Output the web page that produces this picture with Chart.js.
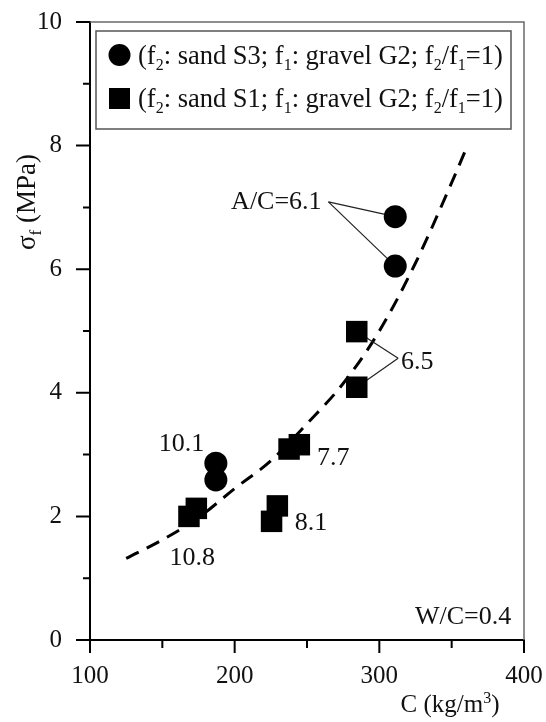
<!DOCTYPE html>
<html>
<head>
<meta charset="utf-8">
<script src="https://cdn.jsdelivr.net/npm/chart.js@4.4.0/dist/chart.umd.min.js"></script>
<style>
  html, body { margin: 0; padding: 0; background: #fff; }
  #wrap { width: 546px; height: 722px; }
</style>
</head>
<body>
<div id="wrap"><canvas id="c" width="546" height="722"></canvas></div>
<script>
// ---- data ----
const C_S3 = [311, 311, 187, 187];                 // kg/m3, sand S3 (circles)
const sigma_S3 = [6.85, 6.05, 2.86, 2.59];         // MPa
const C_S1 = [168.4, 173.5, 225.5, 229.5, 237.6, 244.7, 284.4, 284.4]; // sand S1 (squares)
const sigma_S1 = [2.00, 2.13, 1.92, 2.17, 3.09, 3.16, 4.99, 4.09];
const fitC = [125, 150, 175, 200, 225, 250, 275, 300, 325, 350, 360]; // dashed trend
const fitSigma = [1.32, 1.62, 1.98, 2.45, 2.90, 3.50, 4.15, 5.00, 6.10, 7.40, 7.95];
const xTicks = [100, 200, 300, 400];
const xMinorTicks = [150, 250, 350];
const yTicks = [0, 2, 4, 6, 8, 10];
const yMinorTicks = [1, 3, 5, 7, 9];

// annotation labels (text, anchor in data coords, alignment)
const labels = [
  { text: 'A/C=6.1', x: 260.1, y: 7.12, align: 'right' },
  { text: '6.5', x: 315, y: 4.53, align: 'left' },
  { text: '10.1', x: 147.6, y: 3.20, align: 'left' },
  { text: '10.8', x: 155, y: 1.35, align: 'left' },
  { text: '8.1', x: 241.6, y: 1.92, align: 'left' },
  { text: '7.7', x: 256.9, y: 2.97, align: 'left' },
  { text: 'W/C=0.4', x: 391.2, y: 0.40, align: 'right' }
];
// leader lines: from label anchor to data point
const leaders = [
  [[264.8, 7.09], [311, 6.85]],
  [[264.8, 7.09], [311, 6.05]],
  [[313, 4.56], [284.4, 4.99]],
  [[313, 4.56], [284.4, 4.09]]
];

const FONT = '"Liberation Serif", "Times New Roman", serif';
const FS = 25;

function zip(xs, ys) { return xs.map((x, i) => ({ x: x, y: ys[i] })); }

function drawRich(ctx, parts, x, y, size, align) {
  // parts: [text, mode]; mode 0 normal, -1 subscript, 1 superscript
  const small = Math.round(size * 0.62);
  let total = 0;
  const widths = parts.map(p => {
    ctx.font = (p[1] === 0 ? size : small) + 'px ' + FONT;
    const w = ctx.measureText(p[0]).width;
    total += w;
    return w;
  });
  let cx = align === 'center' ? x - total / 2 : (align === 'right' ? x - total : x);
  ctx.textAlign = 'left';
  ctx.textBaseline = 'alphabetic';
  const base = y + size * 0.33;
  parts.forEach((p, i) => {
    let yy = base;
    if (p[1] === 0) ctx.font = size + 'px ' + FONT;
    else {
      ctx.font = small + 'px ' + FONT;
      yy = p[1] < 0 ? base + size * 0.24 : base - size * 0.38;
    }
    ctx.fillText(p[0], cx, yy);
    cx += widths[i];
  });
}

const decor = {
  id: 'decor',
  afterDraw(chart) {
    const ctx = chart.ctx;
    const xs = chart.scales.x, ys = chart.scales.y;
    const a = chart.chartArea;
    ctx.save();
    // frame top & right
    ctx.strokeStyle = '#6a6a6a';
    ctx.lineWidth = 1.5;
    ctx.beginPath();
    ctx.moveTo(a.left, a.top);
    ctx.lineTo(a.right, a.top);
    ctx.lineTo(a.right, a.bottom);
    ctx.stroke();
    // ticks
    ctx.strokeStyle = '#000';
    ctx.lineWidth = 2;
    ctx.beginPath();
    yTicks.forEach(v => { const p = ys.getPixelForValue(v); ctx.moveTo(a.left - 14, p); ctx.lineTo(a.left, p); });
    yMinorTicks.forEach(v => { const p = ys.getPixelForValue(v); ctx.moveTo(a.left - 7, p); ctx.lineTo(a.left, p); });
    xTicks.forEach(v => { const p = xs.getPixelForValue(v); ctx.moveTo(p, a.bottom); ctx.lineTo(p, a.bottom + 13); });
    xMinorTicks.forEach(v => { const p = xs.getPixelForValue(v); ctx.moveTo(p, a.bottom); ctx.lineTo(p, a.bottom + 8); });
    ctx.stroke();

    ctx.fillStyle = '#111';
    // annotations
    labels.forEach(l => {
      drawRich(ctx, [[l.text, 0]], xs.getPixelForValue(l.x), ys.getPixelForValue(l.y), 26, l.align);
    });

    // legend
    const lx = 96, ly = 31, lw = 415, lh = 98;
    ctx.strokeStyle = '#555';
    ctx.lineWidth = 1.5;
    ctx.fillStyle = '#fff';
    ctx.fillRect(lx, ly, lw, lh);
    ctx.strokeRect(lx, ly, lw, lh);
    ctx.fillStyle = '#000';
    ctx.beginPath();
    ctx.arc(119.5, 55, 11, 0, Math.PI * 2);
    ctx.fill();
    ctx.fillRect(109, 88, 21, 21);
    ctx.fillStyle = '#111';
    drawRich(ctx, [['(f', 0], ['2', -1], [': sand S3; f', 0], ['1', -1], [': gravel G2; f', 0], ['2', -1], ['/f', 0], ['1', -1], ['=1)', 0]], 138, 55, 26.5, 'left');
    drawRich(ctx, [['(f', 0], ['2', -1], [': sand S1; f', 0], ['1', -1], [': gravel G2; f', 0], ['2', -1], ['/f', 0], ['1', -1], ['=1)', 0]], 138, 98, 26.5, 'left');

    // axis titles
    drawRich(ctx, [['C (kg/m', 0], ['3', 1], [')', 0]], 450, 704, FS, 'center');
    ctx.save();
    ctx.translate(26, 202);
    ctx.rotate(-Math.PI / 2);
    drawRich(ctx, [['σ', 0], ['f', -1], [' (MPa)', 0]], 0, 0, 27, 'center');
    ctx.restore();
    ctx.restore();
  }
};

const leaderSets = leaders.map(seg => ({
  type: 'line',
  data: seg.map(p => ({ x: p[0], y: p[1] })),
  borderColor: '#222',
  borderWidth: 1.2,
  pointRadius: 0,
  showLine: true,
  order: 2
}));

new Chart(document.getElementById('c'), {
  type: 'line',
  data: {
    datasets: [
      {
        label: 'S3',
        data: zip(C_S3, sigma_S3),
        showLine: false,
        pointStyle: 'circle',
        pointRadius: 11.5,
        pointBackgroundColor: '#000',
        pointBorderColor: '#000',
        pointBorderWidth: 0,
        order: 0
      },
      {
        label: 'S1',
        data: zip(C_S1, sigma_S1),
        showLine: false,
        pointStyle: 'rect',
        pointRadius: 15.2,
        pointBackgroundColor: '#000',
        pointBorderColor: '#000',
        pointBorderWidth: 0,
        order: 0
      },
      {
        label: 'fit',
        data: zip(fitC, fitSigma),
        borderColor: '#000',
        borderWidth: 3,
        borderDash: [14, 9],
        pointRadius: 0,
        cubicInterpolationMode: 'monotone',
        order: 3
      },
      ...leaderSets
    ]
  },
  options: {
    responsive: false,
    animation: false,
    devicePixelRatio: 1,
    layout: { padding: { top: 22, right: 22, left: 0, bottom: 0 } },
    plugins: { legend: { display: false }, tooltip: { enabled: false } },
    scales: {
      x: {
        type: 'linear',
        min: 100, max: 400,
        afterBuildTicks: s => { s.ticks = xTicks.map(v => ({ value: v })); },
        afterFit: s => { s.height = 82; s.paddingLeft = 0; s.paddingRight = 0; },
        grid: { display: false, drawTicks: false },
        border: { display: true, color: '#000', width: 2 },
        ticks: { padding: 21, color: '#111', font: { family: FONT, size: FS }, maxRotation: 0 }
      },
      y: {
        type: 'linear',
        min: 0, max: 10,
        afterBuildTicks: s => { s.ticks = yTicks.map(v => ({ value: v })); },
        afterFit: s => { s.width = 90; s.paddingTop = 0; s.paddingBottom = 0; },
        grid: { display: false, drawTicks: false },
        border: { display: true, color: '#000', width: 2 },
        ticks: { padding: 28, color: '#111', font: { family: FONT, size: FS } }
      }
    }
  },
  plugins: [decor]
});
</script>
</body>
</html>
